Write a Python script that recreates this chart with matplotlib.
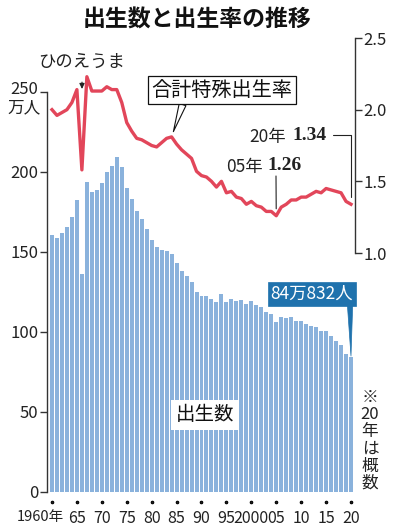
import matplotlib
matplotlib.use("Agg")
import matplotlib.pyplot as plt
import matplotlib.transforms as mtransforms
import numpy as np

plt.rcParams["font.family"] = ["Noto Sans CJK JP", "DejaVu Sans"]

# 出生数 (万人) and 合計特殊出生率, 1960-2020
years = np.arange(1960, 2021)
births = [160.6, 158.9, 161.9, 165.9, 171.7, 182.4, 136.1, 193.6, 187.2, 188.9,
          193.4, 200.1, 203.9, 209.2, 203.0, 190.1, 183.3, 175.5, 170.9, 164.3,
          157.7, 152.9, 151.5, 150.9, 149.0, 143.2, 138.3, 134.7, 131.4, 124.7,
          122.2, 122.3, 120.9, 118.8, 123.8, 118.7, 120.7, 119.2, 120.3, 117.7,
          119.1, 117.1, 115.4, 112.4, 111.1, 106.3, 109.3, 109.0, 109.1, 107.0,
          107.1, 105.1, 103.7, 103.0, 100.4, 100.6, 97.7, 94.6, 91.8, 86.5,
          84.1]
tfr = [2.00, 1.96, 1.98, 2.00, 2.05, 2.14, 1.58, 2.23, 2.13, 2.13,
       2.13, 2.16, 2.14, 2.14, 2.05, 1.91, 1.85, 1.80, 1.79, 1.77,
       1.75, 1.74, 1.77, 1.80, 1.81, 1.76, 1.72, 1.69, 1.66, 1.57,
       1.54, 1.53, 1.50, 1.46, 1.50, 1.42, 1.43, 1.39, 1.38, 1.34,
       1.36, 1.33, 1.32, 1.29, 1.29, 1.26, 1.32, 1.34, 1.37, 1.37,
       1.39, 1.39, 1.41, 1.43, 1.42, 1.45, 1.44, 1.43, 1.42, 1.36,
       1.34]
xtick_years = list(range(1960, 2021, 5))
xtick_labels = ["1960年", "65", "70", "75", "80", "85", "90", "95", "2000",
                "05", "10", "15", "20"]
left_ticks = [0, 50, 100, 150, 200, 250]
right_ticks = [1.0, 1.5, 2.0, 2.5]
note_chars = ["※", "20", "年", "は", "概", "数"]

W, H = 393, 530
BAR = "#8ab2dc"
RED = "#e2465a"
BLUE = "#1f72ad"


def px(x, y):
    return (x / W, 1 - y / H)


def shift(artist, dx, dy):
    artist.set_transform(artist.get_transform() +
                         mtransforms.ScaledTranslation(dx / 100, dy / 100,
                                                       fig.dpi_scale_trans))


fig = plt.figure(figsize=(W / 100, H / 100), dpi=100)
ax = fig.add_axes([47 / W, 38 / H, 308 / W, 400 / H])
ax2 = fig.add_axes([47 / W, 277 / H, 308 / W, 215 / H])
ax2.patch.set_visible(False)

# births bars
ax.bar(years, births, width=0.8, color=BAR, zorder=2)
ax.set_xlim(1959.0, 2020.8)
ax.set_ylim(0, 250)
for s in ["top", "right"]:
    ax.spines[s].set_visible(False)
ax.spines["left"].set_color("#333333")
ax.spines["left"].set_linewidth(1.0)
ax.spines["bottom"].set_position(("outward", 7))
ax.spines["bottom"].set_visible(False)
ax.set_yticks(left_ticks)
ax.set_yticklabels([str(v) for v in left_ticks])
ax.tick_params(axis="y", direction="out", length=5, width=1.0, color="#333333",
               labelsize=12, pad=1, labelcolor="#222222")
shift(ax.get_yticklabels()[-1], 0, 4)
ax.set_xticks(xtick_years)
ax.set_xticklabels(xtick_labels, family=["Liberation Sans Narrow", "Noto Sans CJK JP"],
                   fontsize=11.5)
ax.tick_params(axis="x", length=0, pad=6, labelcolor="#222222")
for t in ax.xaxis.get_major_ticks():
    t.tick1line.set_marker("o")
    t.tick1line.set_markersize(1.8)
    t.tick1line.set_color("#222222")
lab0 = ax.get_xticklabels()[0]
lab0.set_ha("right")
lab0.set_fontsize(10.5)
shift(lab0, 12, 0)

# TFR line
ax2.plot(years, tfr, color=RED, lw=2.4, solid_joinstyle="round", zorder=3)
ax2.set_xlim(1959.0, 2020.8)
ax2.set_ylim(1.0, 2.5)
for s in ["top", "left", "bottom"]:
    ax2.spines[s].set_visible(False)
ax2.spines["right"].set_color("#333333")
ax2.spines["right"].set_linewidth(1.0)
ax2.set_xticks([])
ax2.yaxis.tick_right()
ax2.set_yticks(right_ticks)
ax2.set_yticklabels([f"{v:.1f}" for v in right_ticks])
ax2.tick_params(axis="y", direction="out", length=5, width=1.0, color="#333333",
                labelsize=12, pad=1, labelcolor="#222222")

# texts
fig.text(*px(197, 20), "出生数と出生率の推移", ha="center", va="center",
         fontsize=16.5, fontweight="bold", color="#111111")
fig.text(*px(24, 108), "万人", ha="center", va="center", fontsize=12, color="#222222")

ax2.annotate("ひのえうま", xy=px(82, 89), xycoords="figure fraction",
             xytext=px(82, 62), textcoords="figure fraction",
             ha="center", va="center", fontsize=12.5, color="#222222",
             arrowprops=dict(arrowstyle="-|>,head_length=0.25,head_width=0.12",
                             color="#222222", lw=0.8, shrinkA=6, shrinkB=0))

ax2.annotate("合計特殊出生率", xy=(1984, tfr[24]), xytext=px(222, 90),
             textcoords="figure fraction", ha="center", va="center",
             fontsize=14.5, color="#111111",
             bbox=dict(boxstyle="square,pad=0.18", fc="white", ec="#111111", lw=0.9),
             arrowprops=dict(arrowstyle="wedge,tail_width=0.35", fc="white",
                             ec="#111111", lw=0.8, relpos=(0.23, 0.0),
                             shrinkA=0, shrinkB=4))

# 05年 annotation
fig.text(*px(244, 167), "05年", ha="center", va="center", fontsize=12.5, color="#222222")
fig.text(*px(285, 166), "1.26", ha="center", va="center", fontsize=14,
         family="Liberation Serif", fontweight="bold", color="#222222")
ax2.annotate("", xy=(2005, tfr[45]), xytext=px(276, 176), textcoords="figure fraction",
             arrowprops=dict(arrowstyle="-", color="#222222", lw=0.8,
                             shrinkA=0, shrinkB=5))

# 20年 annotation
fig.text(*px(268, 137), "20年", ha="center", va="center", fontsize=12.5, color="#222222")
fig.text(*px(310, 136), "1.34", ha="center", va="center", fontsize=14,
         family="Liberation Serif", fontweight="bold", color="#222222")
ax2.annotate("", xy=(2020, tfr[60]), xytext=px(333, 135), textcoords="figure fraction",
             arrowprops=dict(arrowstyle="-", color="#222222", lw=0.8,
                             connectionstyle="angle,angleA=0,angleB=90,rad=0",
                             shrinkA=0, shrinkB=5))

# 84万832人 label
ax.annotate("84万832人", xy=(2020, births[-1]), xytext=px(312, 294),
            textcoords="figure fraction", ha="center", va="center",
            fontsize=12.5, color="white",
            bbox=dict(boxstyle="square,pad=0.15", fc=BLUE, ec=BLUE, lw=0.5),
            arrowprops=dict(arrowstyle="wedge,tail_width=0.3", fc=BLUE, ec=BLUE,
                            lw=0.5, relpos=(0.96, 0.0), shrinkA=0, shrinkB=1))

ax.text(*px(205, 415), "出生数", transform=fig.transFigure, ha="center", va="center",
        fontsize=14, color="#111111", zorder=5,
        bbox=dict(boxstyle="square,pad=0.25", fc="white", ec="none"))

for i, ch in enumerate(note_chars):
    fig.text(*px(370, 397 + i * 17.3), ch, ha="center", va="center",
             fontsize=12, color="#222222")

fig.savefig("out.png", dpi=100)
